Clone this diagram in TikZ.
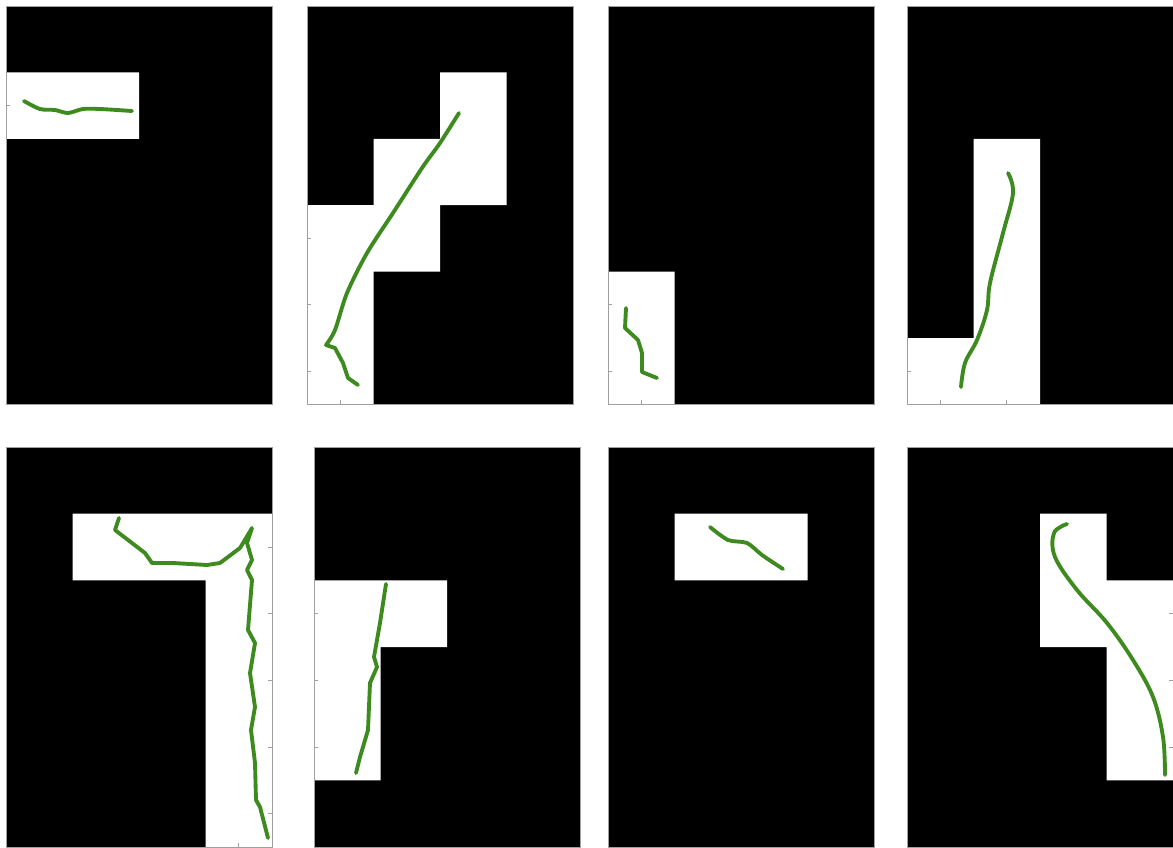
\documentclass[tikz,border=0pt]{standalone}
\usepackage{xcolor}
\definecolor{cPath}{HTML}{3D8B1F}
\definecolor{cFrame}{HTML}{A0A0A0}
\usepackage{tikz}
\usetikzlibrary{calc}
\tikzset{
  panel-bg/.style={fill=black},
  cell-free/.style={fill=white},
  axis-frame/.style={draw=cFrame,line width=0.5pt},
  axis-tick/.style={draw=cFrame,line width=0.4pt},
  path-green/.style={draw=cPath,line width=2.2pt,line cap=round,line join=round},
}
% one occupancy panel: #1,#2 = top left corner (px), #3 = cell height, #4 = free cells col/row
\newcommand{\gridpanel}[4]{%
  \fill[panel-bg] (#1,#2) rectangle ++(266,6*#3);
  \fill[cell-free] \foreach \cc/\rr in {#4} {(#1+\cc*66.5,#2+\rr*#3) rectangle ++(66.5,#3)};
  \begin{scope}
    \clip \foreach \cc/\rr in {#4} {(#1+\cc*66.5,#2+\rr*#3) rectangle ++(66.5,#3)};
    \foreach \k in {0,...,5} {
      \draw[axis-tick] (#1,#2+\k*#3+0.5*#3) -- ++(4,0);
      \draw[axis-tick] (#1+266,#2+\k*#3+0.5*#3) -- ++(-4,0);}
    \foreach \k in {0,...,3} {
      \draw[axis-tick] (#1+\k*66.5+33.25,#2) -- ++(0,4);
      \draw[axis-tick] (#1+\k*66.5+33.25,#2+6*#3) -- ++(0,-4);}
  \end{scope}
  \draw[axis-frame] (#1,#2) rectangle ++(266,6*#3);
}

\begin{document}
\begin{tikzpicture}[x=0.02cm,y=-0.02cm]
  \useasboundingbox (0,0) rectangle (1173,848);

  % top row
  \gridpanel{6}{6}{66.4}{0/1,1/1}
  \gridpanel{307}{6}{66.4}{2/1,1/2,2/2,0/3,1/3,0/4,0/5}
  \gridpanel{608}{6}{66.4}{0/4,0/5}
  \gridpanel{907}{6}{66.4}{1/2,1/3,1/4,1/5,0/5}
  % bottom row
  \gridpanel{6}{447}{66.67}{1/1,2/1,3/1,3/2,3/3,3/4,3/5}
  \gridpanel{314}{447}{66.67}{0/2,1/2,0/3,0/4}
  \gridpanel{608}{447}{66.67}{1/1,2/1}
  \gridpanel{907}{447}{66.67}{2/1,2/2,3/2,3/3,3/4}

  % trajectories
  \draw[path-green] plot[smooth,tension=0.5] coordinates {(24,101) (40,109) (55,110) (68,113) (83,109) (100,109) (132,111)};
  \draw[path-green] plot[smooth,tension=0.5] coordinates {(459,113) (440,143) (422,168) (393,213) (367,253) (347,293) (335,330) (326,345)}
    -- (335,348) -- (343,363) -- (348,378) -- (358,385);
  \draw[path-green] (626,308) -- (625,328) -- (638,340) -- (642,353) -- (642,372) -- (657,378);
  \draw[path-green] plot[smooth,tension=0.6] coordinates {(1008,173) (1013,193) (1003,233) (990,283) (987,310) (977,340) (965,363) (961,387)};

  \draw[path-green] (119,518) -- (115,530) -- (145,553) -- (152,563) -- (173,563) -- (207,565) -- (220,563)
    -- (240,548) -- (252,528) -- (247,543) -- (252,560) -- (247,570) -- (252,580) -- (248,630) -- (255,643)
    -- (250,673) -- (255,707) -- (251,730) -- (255,763) -- (256,800) -- (260,807) -- (268,838);
  \draw[path-green] (386,584) -- (380,623) -- (374,657) -- (377,667) -- (370,683) -- (368,730) -- (360,757) -- (356,773);
  \draw[path-green] plot[smooth,tension=0.5] coordinates {(710,527) (728,540) (747,543) (762,555) (783,569)};
  \draw[path-green] plot[smooth,tension=0.6] coordinates {(1067,524) (1054,533) (1055,557) (1077,590) (1107,623) (1133,660) (1153,697) (1163,737) (1165,775)};
\end{tikzpicture}
\end{document}
